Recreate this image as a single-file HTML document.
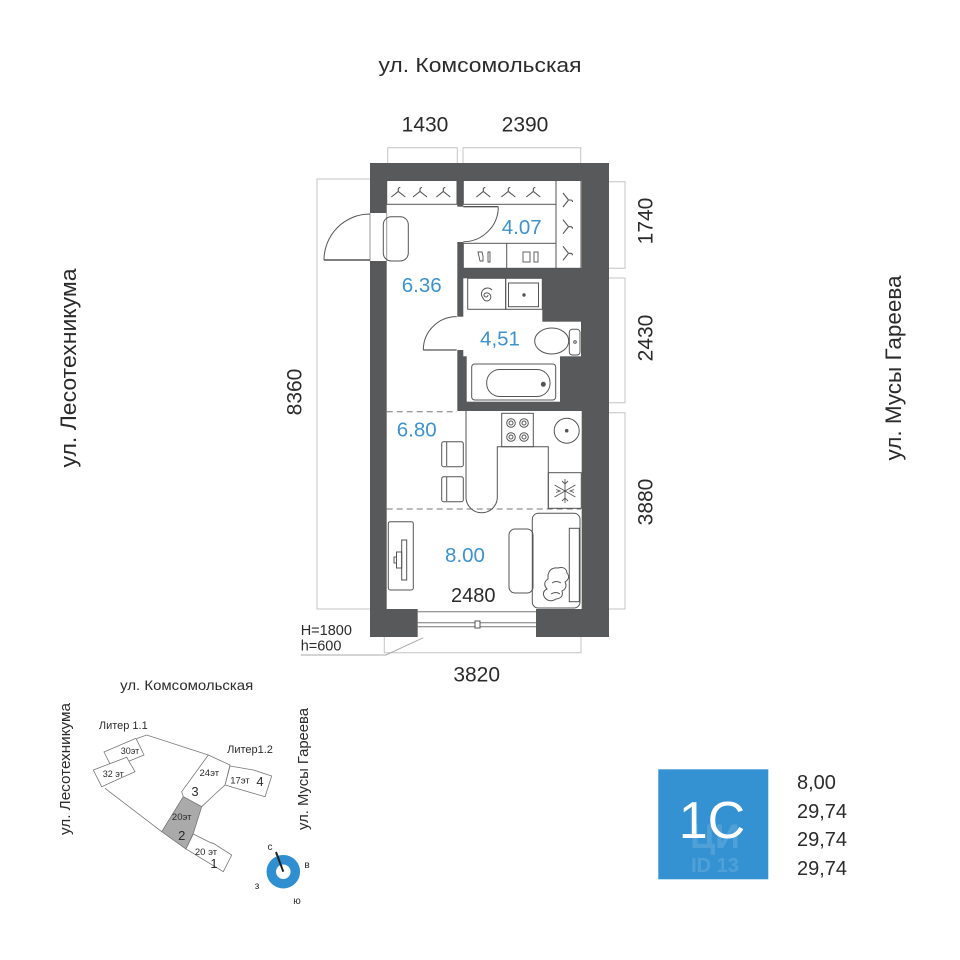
<!DOCTYPE html>
<html><head><meta charset="utf-8">
<style>
html,body{margin:0;padding:0;background:#fff;}
svg{display:block;}
text{font-family:"Liberation Sans","DejaVu Sans",sans-serif;}
</style></head>
<body>
<svg width="960" height="960" viewBox="0 0 960 960" xmlns="http://www.w3.org/2000/svg">
<defs>
<g id="hg"><path d="M-7 4L0 -1.5L7 4M0 -1.5V-3.5q0 -2 2 -2"/></g>
</defs>
<rect width="960" height="960" fill="#fff"/>

<!-- street labels -->
<text x="480" y="72" font-size="20" fill="#2b2b2b" text-anchor="middle" textLength="203" lengthAdjust="spacingAndGlyphs">ул. Комсомольская</text>
<text transform="translate(76,368) rotate(-90)" font-size="22" fill="#2b2b2b" text-anchor="middle" textLength="199" lengthAdjust="spacingAndGlyphs">ул. Лесотехникума</text>
<text transform="translate(901,368) rotate(-90)" font-size="22" fill="#2b2b2b" text-anchor="middle" textLength="185" lengthAdjust="spacingAndGlyphs">ул. Мусы Гареева</text>

<!-- dimension lines -->
<g fill="none" stroke="#c4c4c4" stroke-width="1">
<path d="M387.7 163V147.7H457.3V163"/>
<path d="M463 163V147.7H580.7V163"/>
<path d="M609 181.7H625V268.3H609"/>
<path d="M609 278H625V402.7H609"/>
<path d="M609 412.7H625V609H609"/>
<path d="M370 179H317V609H370"/>
<path d="M384.3 637V652.7H581V637"/>
<path d="M300.7 655H386L423.3 637.7" stroke="#aaa"/>
</g>
<g font-size="21" fill="#2b2b2b" text-anchor="middle">
<text x="425" y="131.5">1430</text>
<text x="525" y="131.5">2390</text>
<text x="476.7" y="681.7">3820</text>
<text transform="translate(652.5,221) rotate(-90)">1740</text>
<text transform="translate(652.5,338) rotate(-90)">2430</text>
<text transform="translate(652.5,502) rotate(-90)">3880</text>
<text transform="translate(301.5,392) rotate(-90)">8360</text>
</g>
<text x="300.7" y="635" font-size="14.5" fill="#2b2b2b">H=1800</text>
<text x="300.7" y="650.7" font-size="14.5" fill="#2b2b2b">h=600</text>

<!-- walls -->
<rect x="370" y="163" width="239" height="474" fill="#58595b"/>
<!-- white rooms -->
<g fill="#fff">
<rect x="386.7" y="180.5" width="70.6" height="231"/>
<rect x="386.7" y="411" width="195" height="198"/>
<rect x="463.3" y="180.5" width="118.4" height="87.8"/>
<rect x="463.3" y="278.3" width="79" height="45"/>
<rect x="463.3" y="321.7" width="117.7" height="34.6"/>
<rect x="466.7" y="355" width="93.3" height="46.7"/>
<rect x="370" y="213" width="17" height="48"/>
<rect x="456" y="206.7" width="8" height="35.3"/>
<rect x="456" y="316.7" width="8" height="33.3"/>
<rect x="417.7" y="608" width="118.3" height="29.5"/>
</g>

<g fill="none" stroke="#555" stroke-width="1">
<!-- left door -->
<path d="M370 213V261M386.7 213V261" stroke="#999"/>
<path d="M370 260H324" stroke-width="1.5"/>
<path d="M324 260A46 46 0 0 1 370 214"/>
<!-- dressing door -->
<path d="M463.3 206.7H498.3" stroke-width="1.3"/>
<path d="M498.3 206.7A35 35 0 0 1 463.3 241.7"/>
<!-- bath door -->
<path d="M456.7 350H423.3" stroke-width="1.3"/>
<path d="M423.3 350A33.4 33.4 0 0 1 456.7 316.6"/>
<!-- window -->
<path d="M417.7 611.7H536M417.7 622.7H536M417.7 626.7H536" stroke="#777"/>
<rect x="475" y="621" width="5" height="7" fill="#fff"/>

<!-- hallway wardrobe -->
<rect x="386.7" y="180.5" width="70.3" height="23.8"/>
<rect x="383.3" y="216.7" width="25" height="44.3" rx="8"/>
<!-- dressing room furniture -->
<rect x="463.3" y="180.5" width="92.7" height="23.8"/>
<rect x="556" y="180.5" width="25" height="87.8"/>
<rect x="463.3" y="243.3" width="92.7" height="25"/>
<path d="M506.7 243.3V268.3"/>
<path d="M478 252h4l1 4v5h-3zM488 252h2v10h-2z" stroke-width="0.9"/>
<rect x="523" y="252" width="7" height="10" stroke-width="0.9"/>
<rect x="534" y="252" width="4" height="10" stroke-width="0.9"/>
</g>

<!-- hangers -->
<g fill="none" stroke="#555" stroke-width="1.1">
<use href="#hg" x="398.3" y="193"/>
<use href="#hg" x="420" y="193"/>
<use href="#hg" x="443.3" y="193"/>
<use href="#hg" x="483.3" y="193"/>
<use href="#hg" x="508.3" y="193"/>
<use href="#hg" x="533.3" y="193"/>
<g transform="translate(567,200) rotate(90)"><path d="M-7 4L0 -1.5L7 4M0 -1.5V-3.5q0 -2 2 -2"/></g>
<g transform="translate(567,226.7) rotate(90)"><path d="M-7 4L0 -1.5L7 4M0 -1.5V-3.5q0 -2 2 -2"/></g>
<g transform="translate(567,253.3) rotate(90)"><path d="M-7 4L0 -1.5L7 4M0 -1.5V-3.5q0 -2 2 -2"/></g>
</g>

<!-- bathroom -->
<g fill="none" stroke="#555" stroke-width="1">
<rect x="467.7" y="278.3" width="38" height="31"/>
<path d="M488 295a2 2 0 1 1 -2 -2a4 4 0 1 1 -3 5a6 6 0 1 1 9 -8" />
<rect x="505.7" y="278.3" width="36.6" height="31"/>
<rect x="508.5" y="283" width="30" height="23.7"/>
<circle cx="524" cy="295" r="1.2" fill="#555"/>
<ellipse cx="551.7" cy="341" rx="17" ry="13"/>
<rect x="569.3" y="329.3" width="10.7" height="25.7" rx="3"/>
<circle cx="575" cy="342" r="1.3"/>
<rect x="471.7" y="364" width="84" height="36" rx="3"/>
<rect x="486.7" y="369.5" width="63.3" height="27" rx="13"/>
<circle cx="543.3" cy="384.3" r="2" fill="#555"/>
</g>

<!-- kitchen / living -->
<g fill="none" stroke="#555" stroke-width="1">
<path d="M386.7 411.7H457" stroke-dasharray="6 4" stroke="#777"/>
<path d="M386.7 509H581" stroke-dasharray="6 4" stroke="#777"/>
<path d="M466 411V498.3A15.7 15.7 0 0 0 497.3 498.3V446.7H548.3V508.3"/>
<rect x="501.7" y="413.3" width="31.6" height="33.4"/>
<g stroke-width="1">
<circle cx="511" cy="423" r="4.3"/><circle cx="511" cy="423" r="2"/>
<circle cx="524" cy="423" r="4.3"/><circle cx="524" cy="423" r="2"/>
<circle cx="511" cy="437" r="4.3"/><circle cx="511" cy="437" r="2"/>
<circle cx="524" cy="437" r="4.3"/><circle cx="524" cy="437" r="2"/>
</g>
<circle cx="566.7" cy="430.7" r="12.5"/>
<circle cx="566.7" cy="430.7" r="1.3" fill="#555"/>
<rect x="548.3" y="472.7" width="33" height="35.6"/>
<path d="M565 479V503M554.6 485L575.4 497M554.6 497L575.4 485M562 481l3 3l3 -3M562 501l3 -3l3 3M556 489.5l4 1.5l-4 1.5M574 489.5l-4 1.5l4 1.5" stroke-width="0.9"/>
<!-- chairs -->
<rect x="441.7" y="441.7" width="21.6" height="25" rx="2"/>
<path d="M446.7 442V466"/>
<rect x="441.7" y="476.7" width="21.6" height="25" rx="2"/>
<path d="M446.7 477V501"/>
<!-- tv -->
<rect x="388.3" y="521.7" width="25" height="68.3" rx="2"/>
<rect x="401.7" y="540" width="5" height="40"/>
<rect x="396.5" y="552" width="5.2" height="16"/>
<rect x="394" y="557" width="2.5" height="6"/>
<!-- sofa -->
<rect x="509" y="529" width="24" height="64" rx="6"/>
<rect x="532.3" y="513.3" width="47.7" height="94.7" rx="6"/>
<rect x="569.3" y="528.3" width="10" height="73.4"/>
<path d="M548 575q2 -8 10 -7q8 -2 9 5q4 5 -2 9q3 6 -3 9q2 7 -6 8q-6 4 -11 -1q-4 -6 2 -9q-5 -6 1 -10z" fill="#fff"/>
<path d="M552 583q4 -3 9 0M551 594q5 -3 9 0"/>
</g>

<!-- area labels -->
<g font-size="20.5" fill="#3d93cf" text-anchor="middle">
<text x="421.7" y="292">6.36</text>
<text x="521.7" y="234">4.07</text>
<text x="500" y="345.5">4,51</text>
<text x="416.7" y="436.5">6.80</text>
<text x="465" y="562">8.00</text>
</g>
<text x="473.3" y="602" font-size="20" fill="#2b2b2b" text-anchor="middle">2480</text>

<!-- inset map -->
<text x="186.7" y="690" font-size="14" fill="#2b2b2b" text-anchor="middle" textLength="133" lengthAdjust="spacingAndGlyphs">ул. Комсомольская</text>
<text transform="translate(70,769) rotate(-90)" font-size="14.5" fill="#2b2b2b" text-anchor="middle" textLength="132" lengthAdjust="spacingAndGlyphs">ул. Лесотехникума</text>
<text transform="translate(308,769) rotate(-90)" font-size="14.5" fill="#2b2b2b" text-anchor="middle" textLength="122" lengthAdjust="spacingAndGlyphs">ул. Мусы Гареева</text>
<text x="123.3" y="729" font-size="11" fill="#2b2b2b" text-anchor="middle">Литер 1.1</text>
<text x="250" y="753" font-size="11" fill="#2b2b2b" text-anchor="middle">Литер1.2</text>
<g fill="#fff" stroke="#777" stroke-width="0.8">
<path d="M137 738.5L146.7 735L208.3 755" fill="none"/>
<path d="M105 788.3L161.7 831.7" fill="none"/>
<polygon points="104,752 136,738.3 144,755 112,768"/>
<polygon points="93.3,770 126.7,757.3 135,771.7 101.7,786.7"/>
<polygon points="230,766 253.3,770 271.7,776 265,796.7 225,785"/>
<polygon points="208.3,755 230,765 225,785 215,794 201.7,806.7 183.3,796.7 181.7,791.7"/>
<polygon points="183.3,796.7 201.7,806.7 193.3,833.3 186,849 161.7,831.7" fill="#aaa"/>
<polygon points="193.3,834 210.7,842.7 213.3,843.3 231.7,855 223.3,871.7 186,849"/>
</g>
<g fill="#2b2b2b" text-anchor="middle">
<text x="130" y="754" font-size="9">30эт</text>
<text x="113.3" y="777" font-size="9">32 эт</text>
<text x="209.3" y="776" font-size="9.5">24эт</text>
<text x="195" y="796" font-size="13">3</text>
<text x="240" y="783.5" font-size="9.5">17эт</text>
<text x="260" y="786" font-size="13">4</text>
<text x="181.7" y="820" font-size="9.5">20эт</text>
<text x="181.7" y="840" font-size="13">2</text>
<text x="206" y="855" font-size="9.5">20 эт</text>
<text x="214" y="868" font-size="13">1</text>
</g>
<!-- compass -->
<circle cx="283.3" cy="871.7" r="12" fill="none" stroke="#2f8fd0" stroke-width="9.5"/>
<path d="M283.3 871.7L276 852" stroke="#222" stroke-width="2"/>
<g font-size="10" fill="#2b2b2b" text-anchor="middle">
<text x="270" y="850">с</text>
<text x="307" y="868">в</text>
<text x="257" y="889">з</text>
<text x="297" y="904">ю</text>
</g>

<!-- blue box -->
<rect x="658.3" y="769.3" width="110" height="110" fill="#3592d2"/>
<g fill="#fff" opacity="0.13" font-weight="bold" text-anchor="middle">
<text x="715" y="848" font-size="34">ЦИ</text>
<text x="715" y="872" font-size="20">ID 13</text>
</g>
<text x="712" y="838" font-size="52" fill="#fff" text-anchor="middle" font-weight="normal">1С</text>

<g font-size="20" fill="#2b2b2b">
<text x="797" y="789">8,00</text>
<text x="797" y="818">29,74</text>
<text x="797" y="846">29,74</text>
<text x="797" y="875">29,74</text>
</g>
</svg>
</body></html>
